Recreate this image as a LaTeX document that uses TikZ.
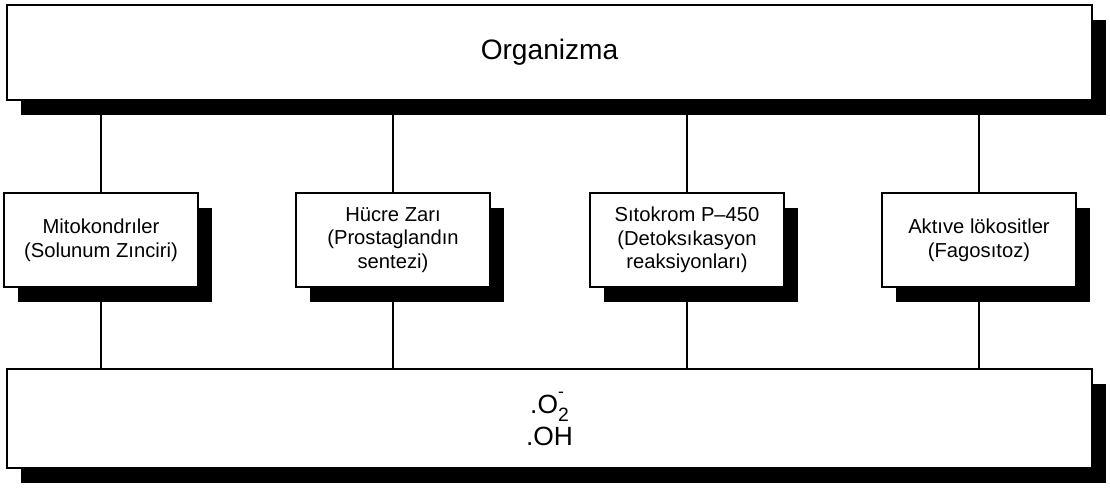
\documentclass[tikz,border=0pt]{standalone}
\usepackage{fontspec}
\setmainfont{Liberation Sans}
\usetikzlibrary{shadows}

\begin{document}
\begin{tikzpicture}
[x=0.02cm, y=-0.02cm,
kutu/.style={draw=black, line width=1.5pt, fill=white, inner sep=0pt, align=center,
  drop shadow={shadow xshift=0.28cm, shadow yshift=-0.3cm, fill=black, opacity=1}},
genis/.style={kutu, minimum width=21.7cm, minimum height=1.9cm},
kucuk/.style={kutu, minimum width=3.88cm, minimum height=1.88cm, font=\fontsize{11.5}{13.5}\selectfont},
cizgi/.style={line width=1.2pt}]
\useasboundingbox (0,0) rectangle (1110,489);

\draw (549.5,52.5) node[genis, font=\fontsize{16}{19}\selectfont] (org) {Organizma};

\draw (101,240) node[kucuk] (mito) {Mitokondrıler\\(Solunum Zınciri)};
\draw (393,240) node[kucuk] (zar)  {Hücre Zarı\\(Prostaglandın\\sentezi)};
\draw (687,240) node[kucuk] (sito) {Sıtokrom P–450\\(Detoksıkasyon\\reaksiyonları)};
\draw (979,240) node[kucuk] (loko) {Aktıve lökositler\\(Fagosıtoz)};

\draw (549.5,418.5) node[genis, minimum height=1.98cm, font=\fontsize{15}{18}\selectfont] (rad)
  {.O\rlap{\raisebox{0.62em}{\fontsize{10}{10}\selectfont -}}\raisebox{-0.32em}{\fontsize{11}{11}\selectfont 2}\\.OH};

% ust baglantilar
\draw[cizgi] (org.south -| mito.north) -- (mito.north);
\draw[cizgi] (org.south -| zar.north) -- (zar.north);
\draw[cizgi] (org.south -| sito.north) -- (sito.north);
\draw[cizgi] (org.south -| loko.north) -- (loko.north);

% alt baglantilar
\draw[cizgi] (mito.south) -- (mito.south |- rad.north);
\draw[cizgi] (zar.south) -- (zar.south |- rad.north);
\draw[cizgi] (sito.south) -- (sito.south |- rad.north);
\draw[cizgi] (loko.south) -- (loko.south |- rad.north);
\end{tikzpicture}
\end{document}
